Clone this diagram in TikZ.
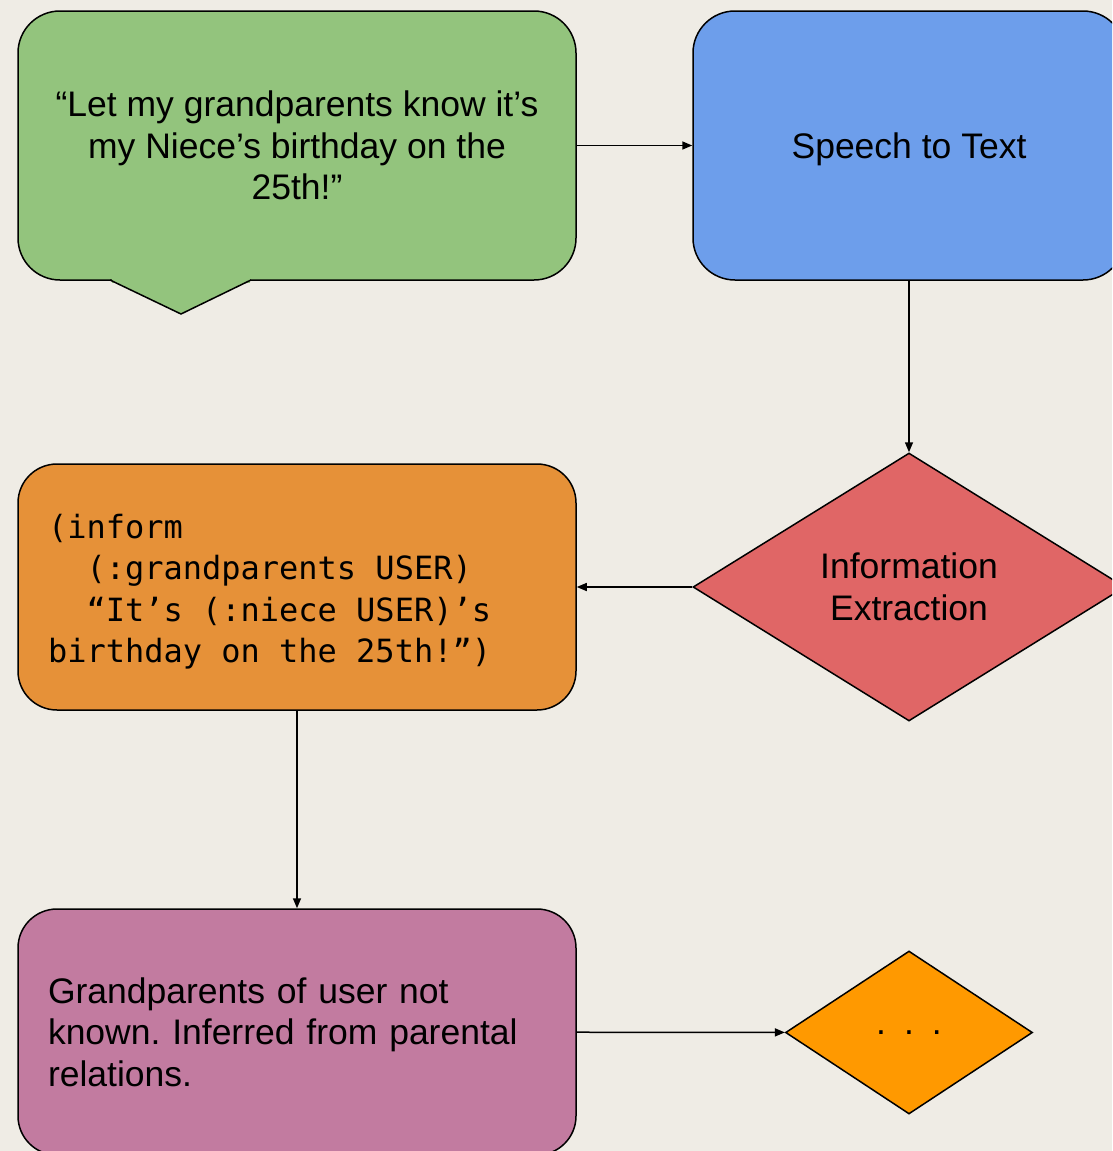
\documentclass[tikz,border=0pt]{standalone}
\usepackage{fontspec}
\setmainfont{Liberation Sans}
\setmonofont{DejaVu Sans Mono}
\usetikzlibrary{shapes.geometric,arrows.meta}
\definecolor{bg}{RGB}{239,236,229}
\definecolor{cgreen}{HTML}{93C47D}
\definecolor{cblue}{HTML}{6D9EEB}
\definecolor{cred}{HTML}{E06666}
\definecolor{corange}{HTML}{E69138}
\definecolor{cpurple}{HTML}{C27BA0}
\definecolor{cyellow}{HTML}{FF9900}
\newcommand{\msp}{\hphantom{x}}
\frenchspacing
\begin{document}
\begin{tikzpicture}[x=1pt,y=-1pt,
  shapebox/.style={rectangle, draw=black, line width=1.5pt, inner sep=0pt, align=center,
    font=\fontsize{35.5}{41.4}\selectfont},
  bigbox/.style={shapebox, minimum width=558pt, minimum height=269pt, rounded corners=42pt},
  midbox/.style={shapebox, minimum width=558pt, minimum height=246pt, rounded corners=39pt,
    align=left, text width=498pt, inner xsep=30pt},
  rhomb/.style={diamond, draw=black, line width=1.5pt, inner sep=0pt, align=center,
    font=\fontsize{35.5}{41.4}\selectfont},
  arr/.style={line width=1.5pt, -{Triangle[length=10pt,width=8pt]}}
]
\useasboundingbox (0,0) rectangle (1112,1151);
\clip (0,0) rectangle (1112,1151);
\fill[bg] (0,0) rectangle (1112,1151);

% speech bubble
\node[bigbox, fill=cgreen] (speech) at (297,145.5)
  {“Let my grandparents know it’s\\my Niece’s birthday on the\\25th!”};
\fill[cgreen] (111.5,278) rectangle (249.5,282.5);
\filldraw[fill=cgreen, draw=black, line width=1.5pt, line join=miter]
  (110,280) -- (181,314) -- (251,280);

\node[bigbox, fill=cblue, minimum width=432pt, text depth=0pt] (stt) at (909,145.5)
  {Speech to Text};

\node[rhomb, fill=cred, minimum width=432pt, minimum height=268pt] (info) at (909,587)
  {Information\\Extraction};

\node[midbox, fill=corange, text height=24pt, text depth=122pt,
  font=\ttfamily\fontsize{32}{41.5}\selectfont]
  (inform) at (297,587)
  {(inform\\\msp\msp(:grandparents\msp USER)\\\msp\msp“It’s\msp(:niece\msp USER)’s\\birthday\msp on\msp the\msp 25th!”)};

\node[midbox, fill=cpurple] (infer) at (297,1032)
  {Grandparents of user not\\known. Inferred from parental\\relations.};

\node[rhomb, fill=cyellow, minimum width=247pt, minimum height=163pt, text depth=0pt]
  (more) at (909,1032.5) {.\hspace{18pt}.\hspace{18pt}.};

\draw[arr] (speech) -- (stt);
\draw[arr] (stt) -- (info);
\draw[arr] (info) -- (inform);
\draw[arr] (inform) -- (infer);
\draw[arr] (infer) -- (more);
\end{tikzpicture}
\end{document}
